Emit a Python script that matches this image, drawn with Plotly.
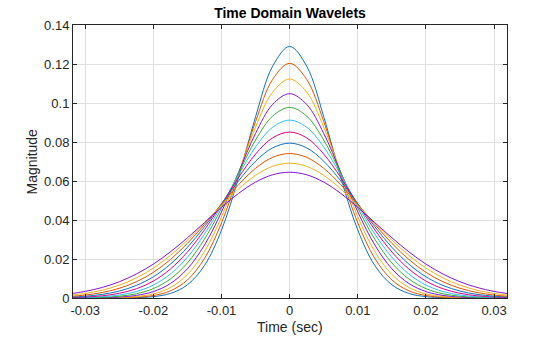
import plotly.graph_objects as go

# Time axis (seconds)
time = [-0.0325, -0.030, -0.0275, -0.025, -0.0225, -0.020, -0.0175, -0.015, -0.0125,
        -0.010, -0.0075, -0.005, -0.0025, 0.0, 0.0025, 0.005, 0.0075, 0.010, 0.0125,
        0.015, 0.0175, 0.020, 0.0225, 0.025, 0.0275, 0.030, 0.0325]

# Magnitudes of the 11 wavelets
w01 = [0.0, 0.0, 0.00001, 0.00004, 0.00017, 0.00069, 0.00234, 0.00678, 0.01668, 0.03484, 0.06177, 0.09300, 0.11887,
       0.12900,
       0.11887, 0.09300, 0.06177, 0.03484, 0.01668, 0.00678, 0.00234, 0.00069, 0.00017, 0.00004, 0.00001, 0.0, 0.0]
w02 = [0.0, 0.0, 0.00002, 0.00010, 0.00038, 0.00126, 0.00367, 0.00926, 0.02028, 0.03851, 0.06340, 0.09052, 0.11209,
       0.12036,
       0.11209, 0.09052, 0.06340, 0.03851, 0.02028, 0.00926, 0.00367, 0.00126, 0.00038, 0.00010, 0.00002, 0.0, 0.0]
w03 = [0.0, 0.00001, 0.00006, 0.00023, 0.00074, 0.00212, 0.00538, 0.01205, 0.02383, 0.04164, 0.06427, 0.08763, 0.10555,
       0.11230,
       0.10555, 0.08763, 0.06427, 0.04164, 0.02383, 0.01205, 0.00538, 0.00212, 0.00074, 0.00023, 0.00006, 0.00001, 0.0]
w04 = [0.00001, 0.00004, 0.00015, 0.00047, 0.00132, 0.00331, 0.00744, 0.01501, 0.02718, 0.04418, 0.06446, 0.08443, 0.09927,
       0.10478,
       0.09927, 0.08443, 0.06446, 0.04418, 0.02718, 0.01501, 0.00744, 0.00331, 0.00132, 0.00047, 0.00015, 0.00004, 0.00001]
w05 = [0.00003, 0.00011, 0.00033, 0.00089, 0.00217, 0.00483, 0.00977, 0.01800, 0.03019, 0.04609, 0.06404, 0.08101, 0.09327,
       0.09776,
       0.09327, 0.08101, 0.06404, 0.04609, 0.03019, 0.01800, 0.00977, 0.00483, 0.00217, 0.00089, 0.00033, 0.00011, 0.00003]
w06 = [0.00009, 0.00025, 0.00065, 0.00153, 0.00332, 0.00665, 0.01229, 0.02092, 0.03280, 0.04740, 0.06312, 0.07745, 0.08756,
       0.09122,
       0.08756, 0.07745, 0.06312, 0.04740, 0.03280, 0.02092, 0.01229, 0.00665, 0.00332, 0.00153, 0.00065, 0.00025, 0.00009]
w07 = [0.00021, 0.00050, 0.00114, 0.00242, 0.00475, 0.00871, 0.01486, 0.02361, 0.03493, 0.04814, 0.06177, 0.07381, 0.08213,
       0.08511,
       0.08213, 0.07381, 0.06177, 0.04814, 0.03493, 0.02361, 0.01486, 0.00871, 0.00475, 0.00242, 0.00114, 0.00050, 0.00021]
w08 = [0.00042, 0.00091, 0.00186, 0.00357, 0.00644, 0.01091, 0.01738, 0.02600, 0.03658, 0.04835, 0.06007, 0.07015, 0.07698,
       0.07941,
       0.07698, 0.07015, 0.06007, 0.04835, 0.03658, 0.02600, 0.01738, 0.01091, 0.00644, 0.00357, 0.00186, 0.00091, 0.00042]
w09 = [0.00077, 0.00152, 0.00283, 0.00498, 0.00832, 0.01317, 0.01974, 0.02804, 0.03773, 0.04811, 0.05811, 0.06651, 0.07212,
       0.07409,
       0.07212, 0.06651, 0.05811, 0.04811, 0.03773, 0.02804, 0.01974, 0.01317, 0.00832, 0.00498, 0.00283, 0.00152, 0.00077]
w10 = [0.00130, 0.00234, 0.00402, 0.00659, 0.01030, 0.01536, 0.02186, 0.02967, 0.03842, 0.04746, 0.05595, 0.06293, 0.06752,
       0.06913,
       0.06752, 0.06293, 0.05595, 0.04746, 0.03842, 0.02967, 0.02186, 0.01536, 0.01030, 0.00659, 0.00402, 0.00234, 0.00130]
w11 = [0.00203, 0.00339, 0.00542, 0.00834, 0.01230, 0.01741, 0.02367, 0.03088, 0.03867, 0.04649, 0.05365, 0.05943, 0.06319,
       0.06450,
       0.06319, 0.05943, 0.05365, 0.04649, 0.03867, 0.03088, 0.02367, 0.01741, 0.01230, 0.00834, 0.00542, 0.00339, 0.00203]

wavelets = [w01, w02, w03, w04, w05, w06, w07, w08, w09, w10, w11]

x_tick_vals = [-0.03, -0.02, -0.01, 0.0, 0.01, 0.02, 0.03]
x_tick_text = ["-0.03", "-0.02", "-0.01", "0", "0.01", "0.02", "0.03"]
y_tick_vals = [0.0, 0.02, 0.04, 0.06, 0.08, 0.10, 0.12, 0.14]
y_tick_text = ["0", "0.02", "0.04", "0.06", "0.08", "0.1", "0.12", "0.14"]

palette = ["#1171BE", "#DD5400", "#EDB120", "#8516D1", "#3BAA32", "#2FBEEF", "#D1048B"]

FONT = "Liberation Sans, Arial, Helvetica, sans-serif"

fig = go.Figure()
for i, w in enumerate(wavelets):
    fig.add_trace(go.Scatter(
        x=time, y=w, mode="lines",
        line=dict(color=palette[i % len(palette)], width=1, shape="spline", smoothing=1.0),
        showlegend=False, hoverinfo="skip"))

axis_common = dict(
    showline=True, linecolor="#262626", linewidth=1, mirror="ticks",
    ticks="inside", ticklen=4, tickcolor="#262626", tickwidth=1,
    showgrid=True, gridcolor="#E0E0E0", gridwidth=1, zeroline=False,
    tickfont=dict(family=FONT, size=13, color="#262626"),
    automargin=False,
)

fig.update_layout(
    width=560, height=337,
    margin=dict(l=73, r=53, t=25, b=39),
    paper_bgcolor="white", plot_bgcolor="white",
    title=dict(text="<b>Time Domain Wavelets</b>", x=(73 + 507) / 2 / 560, xanchor="center",
               y=1 - 13 / 337, yanchor="middle",
               font=dict(family=FONT, size=14, color="#000000")),
    xaxis=dict(range=[-0.0318, 0.0319], tickvals=x_tick_vals, ticktext=x_tick_text,
               **axis_common),
    yaxis=dict(range=[0, 0.14], tickvals=y_tick_vals, ticktext=y_tick_text,
               **axis_common),
    annotations=[
        dict(text="Time (sec)", xref="paper", yref="paper", x=0.5, y=0,
             xanchor="center", yanchor="middle", yshift=-29, showarrow=False,
             font=dict(family=FONT, size=14, color="#262626")),
        dict(text="Magnitude", xref="paper", yref="paper", x=0, y=0.5,
             xanchor="center", yanchor="middle", xshift=-42, textangle=-90,
             showarrow=False, font=dict(family=FONT, size=14, color="#262626")),
    ],
)

fig.write_html("out.html")
